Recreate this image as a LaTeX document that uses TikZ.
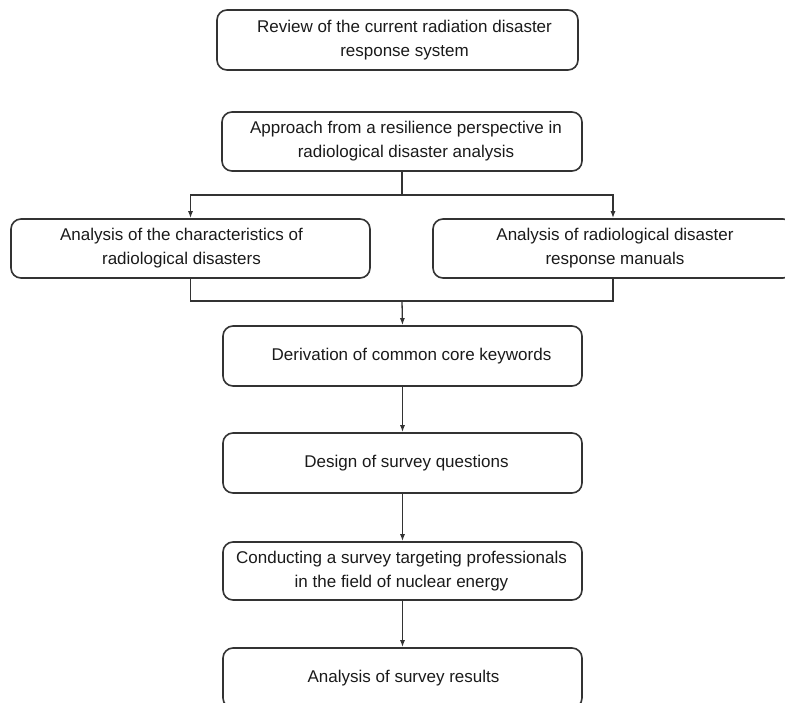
\documentclass[tikz,border=0pt]{standalone}
\usepackage{fontspec}
\setmainfont{Liberation Sans}
\usetikzlibrary{arrows.meta}
\definecolor{linec}{HTML}{333333}
\definecolor{textc}{HTML}{1A1A1A}
\begin{document}
\begin{tikzpicture}[x=1pt,y=-1pt,
  box/.style={draw=linec, line width=1.6pt, rounded corners=10pt, minimum height=59pt, inner sep=0pt},
  txt/.style={text=textc, align=center, font=\fontsize{17}{24}\selectfont, inner sep=0pt},
  conn/.style={draw=linec, line width=1.3pt},
  arr/.style={conn, -{Latex[length=7pt,width=5pt]}}]
\useasboundingbox (0,0) rectangle (785,702);
\clip (0,0) rectangle (785,702);
% boxes
\node[box, minimum width=361pt, minimum height=60pt] (b1) at (397.5,40) {};
\node[box, minimum width=360pt] (b2) at (402,141.5) {};
\node[box, minimum width=359pt] (bl) at (190.5,248.5) {};
\node[box, minimum width=360pt] (br) at (613,248.5) {};
\node[box, minimum width=359pt, minimum height=60pt] (b5) at (402.5,356) {};
\node[box, minimum width=359pt, minimum height=60pt] (b6) at (402.5,463) {};
\node[box, minimum width=359pt, minimum height=58pt] (b7) at (402.5,571) {};
\node[box, minimum width=359pt, minimum height=60pt] (b8) at (402.5,678) {};
% texts
\node[txt] (t1) at ([xshift=7pt]b1.center) {Review of the current radiation disaster\\response system};
\node[txt] (t2) at ([xshift=4pt]b2.center) {Approach from a resilience perspective in\\radiological disaster analysis};
\node[txt] (tl) at ([xshift=-9pt]bl.center) {Analysis of the characteristics of\\radiological disasters};
\node[txt] (tr) at ([xshift=2pt]br.center) {Analysis of radiological disaster\\response manuals};
\node[txt] (t5) at ([xshift=9pt]b5.center) {Derivation of common core keywords};
\node[txt] (t6) at ([xshift=4pt]b6.center) {Design of survey questions};
\node[txt] (t7) at ([xshift=-1pt]b7.center) {Conducting a survey targeting professionals\\in the field of nuclear energy};
\node[txt] (t8) at ([xshift=1pt]b8.center) {Analysis of survey results};
% connectors
\coordinate (j1) at (402,195);
\coordinate (j2) at (402,301);
\draw[conn] (b2.south) -- (j1);
\draw[arr] (j1) -| (bl.north);
\draw[arr] (j1) -| (br.north);
\draw[conn] (bl.south) |- (j2) -| (br.south);
\draw[arr] (j2) -- (b5.north);
\draw[arr] (b5.south) -- (b6.north);
\draw[arr] (b6.south) -- (b7.north);
\draw[arr] (b7.south) -- (b8.north);
\end{tikzpicture}
\end{document}
